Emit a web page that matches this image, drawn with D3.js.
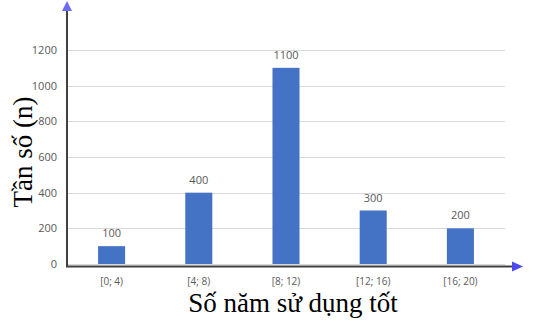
<!DOCTYPE html>
<html>
<head>
<meta charset="utf-8">
<script src="https://cdn.jsdelivr.net/npm/d3@7"></script>
<style>
  body { margin: 0; background: #fff; }
  svg { display: block; }
  .tick-label { font-family: 'Open Sans', sans-serif; font-size: 11px; fill: #595959; }
  .title { font-family: 'Liberation Serif', 'Times New Roman', serif; fill: #000; }
</style>
</head>
<body>
<div id="chart"></div>
<script>
const categories = ['[0; 4)', '[4; 8)', '[8; 12)', '[12; 16)', '[16; 20)']
const counts = [100, 400, 1100, 300, 200]
const yTicks = [0, 200, 400, 600, 800, 1000, 1200]

const width = 533
const height = 326

const svg = d3
  .select('#chart')
  .append('svg')
  .attr('width', width)
  .attr('height', height)

const x = d3.scaleBand()
  .domain(categories)
  .range([68, 504])
  .paddingInner(0.69)
  .paddingOuter(0.345)

const y = d3.scaleLinear()
  .domain([0, 1200])
  .range([264, 50])

// gridlines
svg.append('g')
  .selectAll('line')
  .data(yTicks)
  .enter()
  .append('line')
  .attr('x1', 68)
  .attr('x2', 505)
  .attr('y1', d => Math.round(y(d)) + 0.5)
  .attr('y2', d => Math.round(y(d)) + 0.5)
  .attr('stroke', '#d9d9d9')
  .attr('stroke-width', 1)

// y tick labels
svg.append('g')
  .selectAll('text')
  .data(yTicks)
  .enter()
  .append('text')
  .attr('class', 'tick-label')
  .attr('x', 57)
  .attr('y', d => y(d) + 4)
  .attr('text-anchor', 'end')
  .text(d => d)

// bars
svg.append('g')
  .selectAll('rect')
  .data(counts)
  .enter()
  .append('rect')
  .attr('x', (d, i) => x(categories[i]))
  .attr('y', d => y(d))
  .attr('width', x.bandwidth())
  .attr('height', d => y(0) - y(d))
  .attr('fill', '#4472c4')

// value labels
svg.append('g')
  .selectAll('text')
  .data(counts)
  .enter()
  .append('text')
  .attr('class', 'tick-label')
  .attr('x', (d, i) => x(categories[i]) + x.bandwidth() / 2)
  .attr('y', d => y(d) - 9)
  .attr('text-anchor', 'middle')
  .text(d => d)

// x category labels
svg.append('g')
  .selectAll('text')
  .data(categories)
  .enter()
  .append('text')
  .attr('class', 'tick-label')
  .style('font-size', '10px')
  .attr('x', d => x(d) + x.bandwidth() / 2)
  .attr('y', 285)
  .attr('text-anchor', 'middle')
  .text(d => d)

// axes with arrows
svg.append('line')
  .attr('x1', 67).attr('x2', 67)
  .attr('y1', 9).attr('y2', 267)
  .attr('stroke', '#404040')
  .attr('stroke-width', 2)

svg.append('line')
  .attr('x1', 66).attr('x2', 514)
  .attr('y1', 266.5).attr('y2', 266.5)
  .attr('stroke', '#404040')
  .attr('stroke-width', 2)

svg.append('path')
  .attr('d', 'M67,1 L72,11 L62,11 Z')
  .attr('fill', '#6b6bf5')

svg.append('path')
  .attr('d', 'M523,266.5 L512,261.5 L512,271.5 Z')
  .attr('fill', '#4b4bf0')

// axis titles
svg.append('text')
  .attr('class', 'title')
  .attr('transform', 'translate(32,152) rotate(-90)')
  .attr('text-anchor', 'middle')
  .style('font-size', '27px')
  .text('Tần số (n)')

svg.append('text')
  .attr('class', 'title')
  .attr('x', 293)
  .attr('y', 312)
  .attr('text-anchor', 'middle')
  .style('font-size', '27px')
  .text('Số năm sử dụng tốt')
</script>
</body>
</html>
